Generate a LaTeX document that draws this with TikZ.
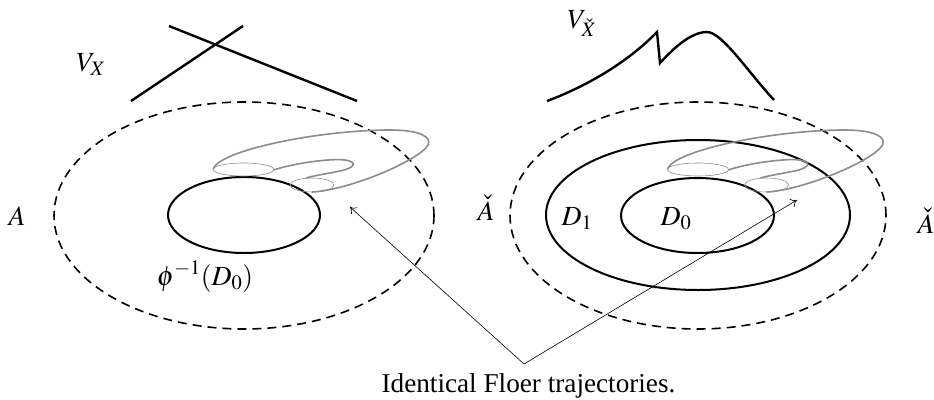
\documentclass[tikz,border=0pt]{standalone}
\usepackage{mathptmx}
\usepackage[no-math]{fontspec}
\setmainfont{Liberation Serif}
\usetikzlibrary{arrows.meta}
\tikzset{
  lbl/.style={font=\fontsize{27.7}{32}\selectfont, inner sep=0pt, anchor=base},
  txtlbl/.style={font=\fontsize{27.2}{32}\selectfont, inner sep=0pt, anchor=base},
  dashell/.style={line width=1.6pt, dash pattern=on 9pt off 6pt},
  solidell/.style={line width=2pt},
  trajthick/.style={draw=black!45, line width=1.6pt},
  trajthin/.style={draw=black!45, line width=0.6pt},
  potential/.style={line width=2.4pt},
  pointer/.style={line width=0.6pt, -{To[length=6pt,width=9pt]}}
}
\begin{document}
\begin{tikzpicture}[x=1pt,y=-1pt]
\useasboundingbox (0,0) rectangle (934,399);

% potentials
\draw[potential] (131,101) -- (243,26);
\draw[potential] (169,26) -- (357,101);
\draw[potential] (547,101) .. controls (590,85) and (630,60) .. (657,32)
   -- (660,63) .. controls (672,50) and (690,32) .. (707,32)
   .. controls (722,32) and (748,72) .. (774,100);

% regions
\draw[dashell] (244,215.5) ellipse [x radius=190pt, y radius=113.5pt];
\draw[solidell] (244,215) ellipse [x radius=76pt, y radius=38pt];
\draw[dashell] (698,215.5) ellipse [x radius=188pt, y radius=113.5pt];
\draw[solidell] (698,215) ellipse [x radius=152pt, y radius=75pt];
\draw[solidell] (697.5,215.5) ellipse [x radius=76.5pt, y radius=37.5pt];

% trajectories
\foreach \dx in {0,454.5}{
\begin{scope}[xshift=\dx pt]
  \draw[trajthin] (243.5,169.5) ellipse [x radius=30.5pt, y radius=6.5pt];
  \draw[trajthin] (312,185) ellipse [x radius=22pt, y radius=7pt];
  \draw[trajthick] (213,169) .. controls (220,150) and (320,130) .. (390,130)
     .. controls (420,130) and (432,137) .. (428,145)
     .. controls (420,160) and (350,190) .. (312,192);
  \draw[trajthick] (274,170) .. controls (290,164) and (330,158) .. (345,160)
     .. controls (358,162) and (355,168) .. (340,171)
     .. controls (325,174) and (312,176) .. (306,178);
\end{scope}}

% labels
\node[lbl] (vx) at (91,71) {$V_X$};
\node[lbl] (vxc) at (582,28) {$V_{\check X}$};
\node[lbl] (a) at (17,225) {$A$};
\node[lbl] (phi) at (205,285) {$\phi^{-1}(D_0)$};
\node[lbl] (al) at (486,220) {$\check A$};
\node[lbl] (d1) at (577,225) {$D_1$};
\node[lbl] (d0) at (676,225) {$D_0$};
\node[lbl] (ar) at (926,233) {$\check A$};
\node[txtlbl] (txt) at (528.5,392) {Identical Floer trajectories.};

% pointers
\coordinate (j) at (524,364);
\coordinate (tl) at (350,207);
\coordinate (tr) at (797,200);
\draw[pointer] (j) -- (tl);
\draw[pointer] (j) -- (tr);
\end{tikzpicture}
\end{document}
